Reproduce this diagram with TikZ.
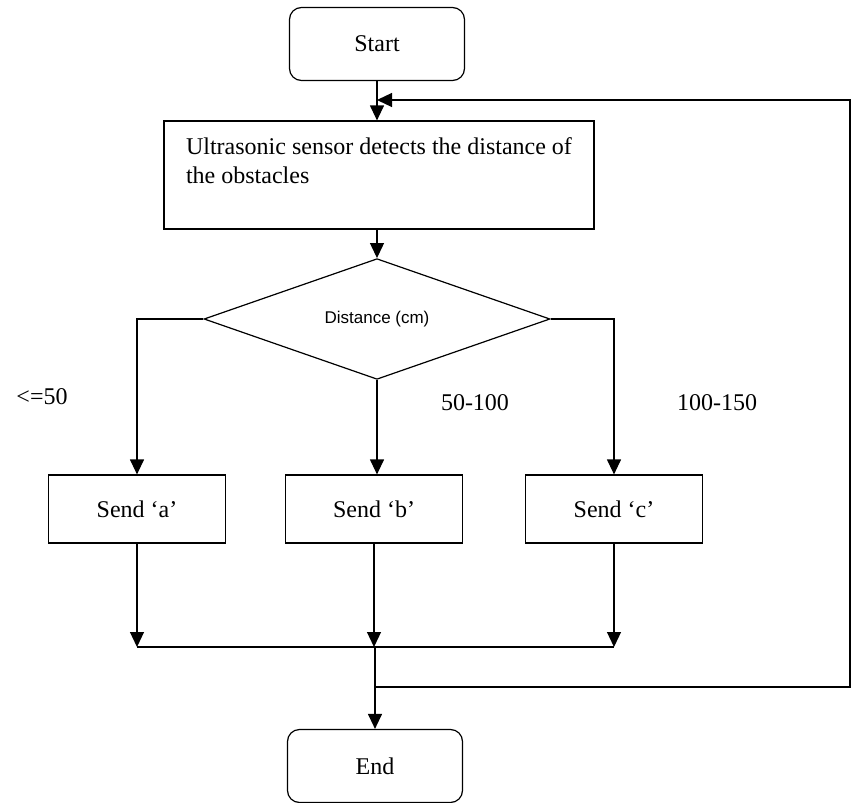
\documentclass[tikz,border=0pt]{standalone}
\usepackage{fontspec}
\setmainfont{Liberation Serif}
\newfontfamily\diasans{Liberation Sans}
\usepackage{tikz}
\usetikzlibrary{shapes.geometric,arrows.meta}

\begin{document}
\begin{tikzpicture}[
	x=0.5pt, y=-0.5pt,
	line width=0.6pt,
	term/.style={draw, rounded corners=6pt, minimum width=87.5pt, minimum height=36.5pt, inner sep=0, font=\fontsize{12}{14.5}\selectfont},
	procbox/.style={draw, minimum width=88.5pt, minimum height=34pt, inner sep=0, font=\fontsize{12}{14.5}\selectfont},
	decision/.style={diamond, draw, minimum width=173pt, minimum height=49pt, inner sep=0, font=\diasans\fontsize{8.5}{10}\selectfont},
	cond/.style={font=\fontsize{12}{14.5}\selectfont},
	flow/.style={-{Triangle[length=7.5pt,width=7pt]}}
]
\useasboundingbox (0,0) rectangle (852,803);

\node[term] (start) at (377,44) {Start};
\node[draw, minimum width=215pt, minimum height=54pt, inner sep=0, align=left, font=\fontsize{12}{14.5}\selectfont] (sense) at (379,175)
	{Ultrasonic sensor detects the distance of\\the obstacles\\\mbox{}};
\node[decision] (dist) at (377,319) {Distance (cm)};

\node[procbox] (senda) at (137,509) {Send ‘a’};
\node[procbox] (sendb) at (374,509) {Send ‘b’};
\node[procbox] (sendc) at (614,509) {Send ‘c’};

\node[term] (stop) at (375,766) {End};

\node[cond] (lbla) at (42,397) {<=50};
\node[cond] (lblb) at (475,403) {50-100};
\node[cond] (lblc) at (717,403) {100-150};

\coordinate (merge) at (375,647);
\coordinate (loop) at (375,687);
\coordinate (edge) at (850,100);
\coordinate (back) at (377,100);

\draw[flow] (start) -- (start |- sense.north);
\draw[flow] (sense.south -| dist) -- (dist.north);
\draw[flow] (dist.west) -| (senda.north);
\draw[flow] (dist.south) -- (dist.south |- sendb.north);
\draw[flow] (dist.east) -| (sendc.north);

\draw[flow] (senda) -- (senda |- merge);
\draw[flow] (sendb) -- (sendb |- merge);
\draw[flow] (sendc) -- (sendc |- merge);
\draw (senda |- merge) -- (sendc |- merge);

\draw[flow] (merge) -- (stop);
\draw[flow] (loop) -| (edge) -- (back);
\end{tikzpicture}
\end{document}
